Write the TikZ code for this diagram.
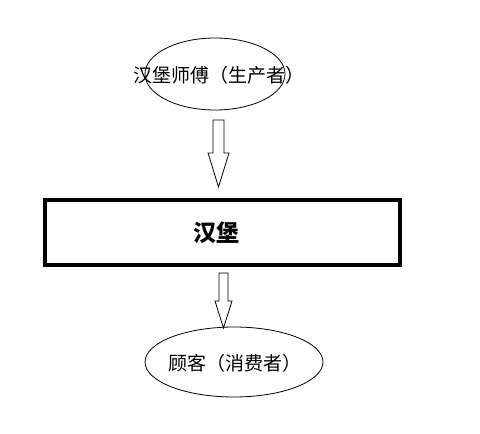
\documentclass[tikz,border=0pt]{standalone}
\usepackage{fontspec}
\setmainfont{Noto Sans CJK SC}
\usepackage{tikz}
\usetikzlibrary{arrows.meta,shapes.geometric}

\tikzset{
  role/.style={draw, ellipse, line width=0.8pt, inner sep=0pt},
  stage/.style={draw, line width=3.5pt, inner sep=0pt},
  word/.style={inner sep=0pt, font=\fontsize{19}{19}\selectfont},
  blockarrow/.style={draw, line width=0.8pt, fill=white},
}

\begin{document}
\begin{tikzpicture}[x=1pt, y=-1pt]

  \useasboundingbox (0,0) rectangle (480,434);

  % producer and consumer
  \node[role, minimum width=140pt, minimum height=72pt] (maker) at (215,74) {};
  \node[word] (makertext) at (219,75) {汉堡师傅（生产者）};
  \node[role, minimum width=178pt, minimum height=70pt] (eater) at (234,362) {};
  \node[word] (eatertext) at (234.5,363) {顾客（消费者）};

  % product
  \node[stage, minimum width=355pt, minimum height=65pt] (burger) at (222.5,232.5) {};
  \node[inner sep=0pt, font=\fontsize{23}{23}\selectfont\bfseries] (burgertext) at (216,233) {汉堡};

  % arrows
  \coordinate (a1) at (218.5,120);
  \coordinate (a2) at (223.5,273);
  \draw[blockarrow] (a1) ++(-5.5,0) -- ++(11,0) -- ++(0,33) -- ++(5,0)
    -- ++(-10.5,34) -- ++(-10.5,-34) -- ++(5,0) -- cycle; % maker -> burger
  \draw[blockarrow] (a2) ++(-4.5,0) -- ++(9,0) -- ++(0,28) -- ++(4,0)
    -- ++(-8.5,27) -- ++(-8.5,-27) -- ++(4,0) -- cycle; % burger -> eater

\end{tikzpicture}
\end{document}
